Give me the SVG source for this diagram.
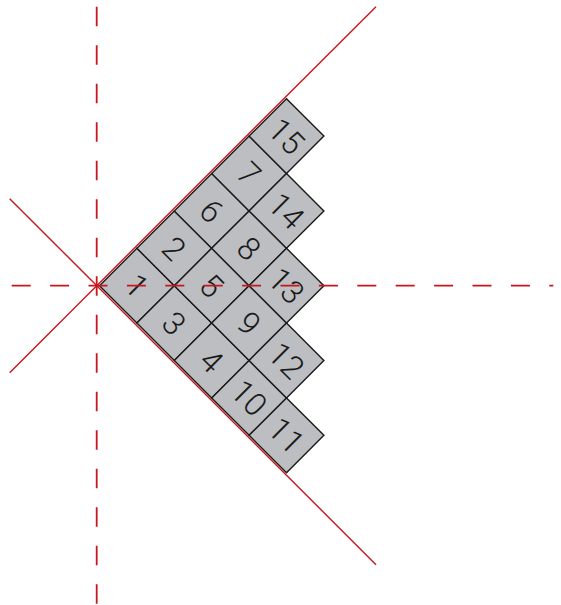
<svg xmlns="http://www.w3.org/2000/svg" xmlns:xlink="http://www.w3.org/1999/xlink" width="561" height="605" viewBox="0 0 561 605">
<style>
.sq{fill:#bdbec1;stroke:#1a1a1a;stroke-width:1.4;stroke-linejoin:miter}
.lbl{font-family:Roboto,"Liberation Sans",sans-serif;font-weight:300;font-size:32px;fill:#1a1a1a;text-anchor:middle}
.ax{stroke:#c8161e;stroke-width:1.4;fill:none}
.dash{stroke:#c8161e;stroke-width:1.8;fill:none}
</style>
<defs>
<path id="sq" d="M-37.4 0 L0 -37.4 L37.4 0 L0 37.4 Z"/>
</defs>
<g id="nodes">
<g id="n1" transform="translate(136.9 285.7)"><use xlink:href="#sq" class="sq"/><text class="lbl" dy="0.36em" transform="rotate(45)">1</text></g>
<g id="n2" transform="translate(174.3 248.3)"><use xlink:href="#sq" class="sq"/><text class="lbl" dy="0.36em" transform="rotate(45)">2</text></g>
<g id="n3" transform="translate(174.3 323.1)"><use xlink:href="#sq" class="sq"/><text class="lbl" dy="0.36em" transform="rotate(45)">3</text></g>
<g id="n4" transform="translate(211.7 360.5)"><use xlink:href="#sq" class="sq"/><text class="lbl" dy="0.36em" transform="rotate(45)">4</text></g>
<g id="n5" transform="translate(211.7 285.7)"><use xlink:href="#sq" class="sq"/><text class="lbl" dy="0.36em" transform="rotate(45)">5</text></g>
<g id="n6" transform="translate(211.7 210.9)"><use xlink:href="#sq" class="sq"/><text class="lbl" dy="0.36em" transform="rotate(45)">6</text></g>
<g id="n7" transform="translate(249.1 173.5)"><use xlink:href="#sq" class="sq"/><text class="lbl" dy="0.36em" transform="rotate(45)">7</text></g>
<g id="n8" transform="translate(249.1 248.3)"><use xlink:href="#sq" class="sq"/><text class="lbl" dy="0.36em" transform="rotate(45)">8</text></g>
<g id="n9" transform="translate(249.1 323.1)"><use xlink:href="#sq" class="sq"/><text class="lbl" dy="0.36em" transform="rotate(45)">9</text></g>
<g id="n10" transform="translate(249.1 397.9)"><use xlink:href="#sq" class="sq"/><text class="lbl" dy="0.36em" transform="rotate(45)">10</text></g>
<g id="n11" transform="translate(286.5 435.3)"><use xlink:href="#sq" class="sq"/><text class="lbl" dy="0.36em" transform="rotate(45)">11</text></g>
<g id="n12" transform="translate(286.5 360.5)"><use xlink:href="#sq" class="sq"/><text class="lbl" dy="0.36em" transform="rotate(45)">12</text></g>
<g id="n13" transform="translate(286.5 285.7)"><use xlink:href="#sq" class="sq"/><text class="lbl" dy="0.36em" transform="rotate(45)">13</text></g>
<g id="n14" transform="translate(286.5 210.9)"><use xlink:href="#sq" class="sq"/><text class="lbl" dy="0.36em" transform="rotate(45)">14</text></g>
<g id="n15" transform="translate(286.5 136.1)"><use xlink:href="#sq" class="sq"/><text class="lbl" dy="0.36em" transform="rotate(45)">15</text></g>
</g>
<g id="connectors">
<line class="ax" x1="9.7" y1="372.7" x2="376" y2="6.7"/>
<line class="ax" x1="9.7" y1="198.7" x2="376" y2="564.7"/>
<line class="dash" x1="96.7" y1="6.7" x2="96.7" y2="605" stroke-dasharray="19.5 19"/>
<line class="dash" x1="11.7" y1="285.7" x2="553.3" y2="285.7" stroke-dasharray="19 19.4"/>
</g>
</svg>
